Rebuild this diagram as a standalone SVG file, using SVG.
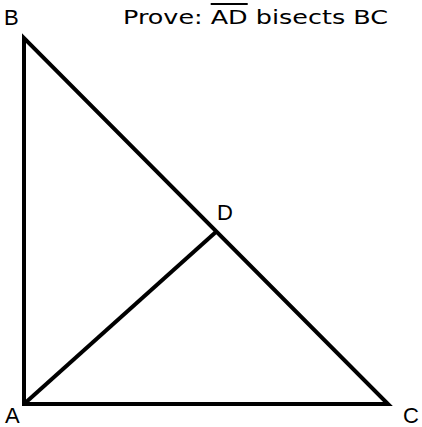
<svg xmlns="http://www.w3.org/2000/svg" width="422" height="427" viewBox="0 0 422 427">
<style>
.lbl{font-family:"Liberation Sans","DejaVu Sans",sans-serif;font-size:22px;fill:#000}
.ttl{font-family:"DejaVu Sans","Liberation Sans",sans-serif;font-size:20px;fill:#000}
.edge{stroke:#000;stroke-width:4;fill:none;stroke-linecap:butt;stroke-linejoin:miter}
</style>
<rect width="422" height="427" fill="#fff"/>
<g id="connectors">
<path class="edge" d="M24,404 L24,38 L388,404 Z"/>
<line class="edge" x1="24" y1="404" x2="217" y2="231"/>
</g>
<g id="node-A"><text class="lbl" x="5" y="423">A</text></g>
<g id="node-B"><text class="lbl" x="4" y="25">B</text></g>
<g id="node-C"><text class="lbl" x="403" y="423">C</text></g>
<g id="node-D"><text class="lbl" x="217" y="220">D</text></g>
<g id="title"><text class="ttl" x="123" y="24" textLength="265" lengthAdjust="spacingAndGlyphs">Prove: <tspan style="text-decoration:overline">AD</tspan> bisects BC</text></g>
</svg>
